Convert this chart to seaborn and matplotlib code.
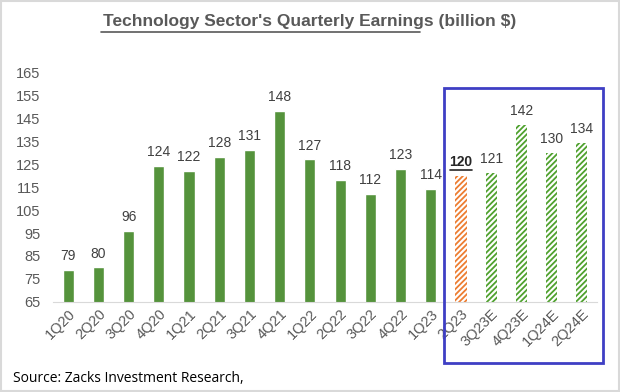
import seaborn as sns
import matplotlib.pyplot as plt
import matplotlib.patches as mpatches
import pandas as pd

quarters = ["1Q20", "2Q20", "3Q20", "4Q20", "1Q21", "2Q21", "3Q21", "4Q21", "1Q22",
            "2Q22", "3Q22", "4Q22", "1Q23", "2Q23", "3Q23E", "4Q23E", "1Q24E", "2Q24E"]
earnings = [79, 80, 96, 124, 122, 128, 131, 148, 127, 118, 112, 123, 114, 120, 121, 142, 130, 134]
kind = ["actual"] * 13 + ["current"] + ["estimate"] * 4

green = "#4fa12e"
orange = "#ed7d31"
grey = "#595959"

df = pd.DataFrame({"quarter": quarters, "earnings": earnings, "kind": kind})

sns.set_style("white")
plt.rcParams['font.family'] = ['Liberation Sans', 'DejaVu Sans']
plt.rcParams['hatch.linewidth'] = 1.3

fig = plt.figure(figsize=(6.2, 3.92), dpi=100)
ax = fig.add_axes([0.0855, 0.2296, 0.8774, 0.5867])

colors = [orange if k == "current" else green for k in kind]
sns.barplot(data=df, x="quarter", y="earnings", hue="quarter", palette=colors,
            legend=False, width=0.37, bottom=0, ax=ax)

# hatched bars for the current quarter and the estimates
for patch, k, c in zip(ax.patches, kind, colors):
    if k != "actual":
        patch.set_facecolor("white")
        patch.set_edgecolor(c)
        patch.set_hatch("//////")
        patch.set_linewidth(0)

ax.set_ylim(65, 165)
ax.set_xlim(-0.5, len(quarters) - 0.5)
ax.set_yticks(range(65, 166, 10))
ax.set_xlabel("")
ax.set_ylabel("")
for s in ["top", "right", "left"]:
    ax.spines[s].set_visible(False)
ax.spines["bottom"].set_color("#d9d9d9")
ax.tick_params(axis="both", length=0, labelsize=10.5, labelcolor=grey)
ax.tick_params(axis="y", pad=9)
plt.setp(ax.get_xticklabels(), rotation=45, ha="right", rotation_mode="anchor")

for i, (v, k) in enumerate(zip(earnings, kind)):
    ax.text(i, v + 3, str(v), ha="center", va="bottom", fontsize=10,
            color="#404040" if k != "current" else "#262626",
            fontweight="bold" if k == "current" else "normal")
    if k == "current":
        ax.plot([i - 0.38, i + 0.38], [v + 2.6, v + 2.6], color="#262626", lw=1.2)

fig.text(0.5, 0.945, "Technology Sector's Quarterly Earnings (billion $)", ha="center",
         va="center", fontsize=12.5, fontweight="bold", color=grey)
fig.add_artist(plt.Line2D([0.163, 0.677], [0.918, 0.918], color=grey, lw=1.2))

fig.text(0.021, 0.035, "Source: Zacks Investment Research,", ha="left", va="center",
         fontsize=10, color="black", family=["Open Sans", "DejaVu Sans"])

fig.add_artist(mpatches.Rectangle((444 / 620, 1 - 363 / 392), 159 / 620, 275 / 392,
                                  fill=False, edgecolor="#3f3fc4", lw=2,
                                  transform=fig.transFigure))
fig.add_artist(mpatches.Rectangle((0.002, 0.002), 0.996, 0.996, fill=False,
                                  edgecolor="#d9d9d9", lw=1.5, transform=fig.transFigure))

fig.savefig("out.png", dpi=100)
